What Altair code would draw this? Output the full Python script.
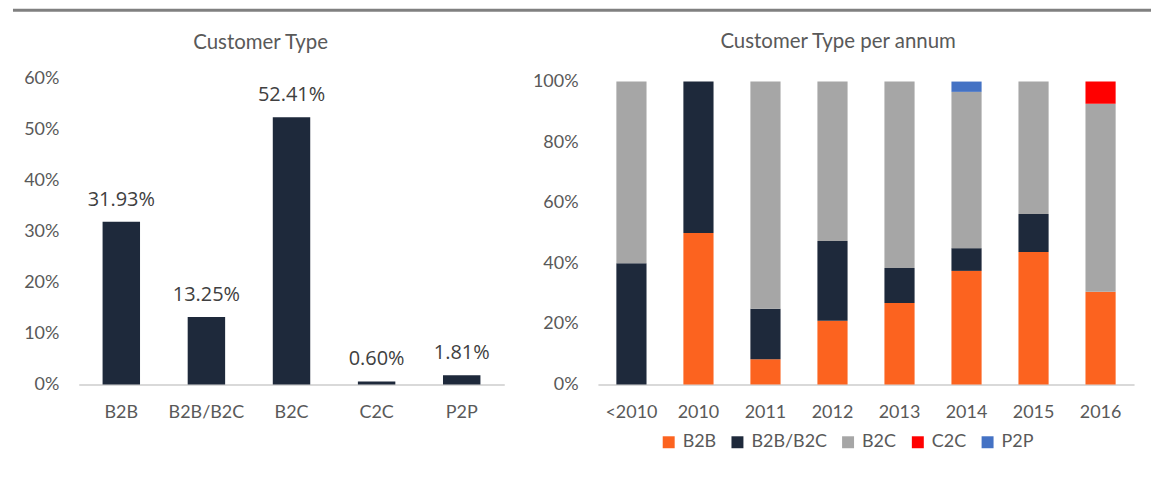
import altair as alt
import pandas as pd

# Left chart data
types = ["B2B", "B2B/B2C", "B2C", "C2C", "P2P"]
shares = [0.3193, 0.1325, 0.5241, 0.0060, 0.0181]

# Right chart data (share per year, per customer type)
years = ["<2010", "2010", "2011", "2012", "2013", "2014", "2015", "2016"]
b2b = [0.0, 0.50, 0.0833, 0.2105, 0.2692, 0.3750, 0.4375, 0.3060]
b2b_b2c = [0.40, 0.50, 0.1667, 0.2632, 0.1154, 0.0750, 0.1250, 0.0]
b2c = [0.60, 0.0, 0.75, 0.5263, 0.6154, 0.5160, 0.4375, 0.6210]
c2c = [0.0, 0.0, 0.0, 0.0, 0.0, 0.0, 0.0, 0.0730]
p2p = [0.0, 0.0, 0.0, 0.0, 0.0, 0.0340, 0.0, 0.0]

colors = ["#FC631F", "#1E293B", "#A6A6A6", "#FF0000", "#4472C4"]
navy = "#1E293B"
FONT = "Lato"
LABEL_COLOR = "#595959"

left_df = pd.DataFrame({"type": types, "share": shares})

rows = []
series = {"B2B": b2b, "B2B/B2C": b2b_b2c, "B2C": b2c, "C2C": c2c, "P2P": p2p}
for i, y in enumerate(years):
    for k, (name, vals) in enumerate(series.items()):
        rows.append({"year": y, "type": name, "value": vals[i], "ord": k})
right_df = pd.DataFrame(rows)

# top gray rule
top_rule = alt.Chart(alt.Data(values=[{"a": 1}])).mark_rule(
    color="#808080", strokeWidth=3
).encode(
    x=alt.value(-66), x2=alt.value(1076), y=alt.value(1.5)
).properties(width=1000, height=2)

x_axis = alt.Axis(title=None, labelAngle=0, ticks=False, tickSize=0, domainColor="#D9D9D9",
                  domainWidth=2, labelFont=FONT, labelFontSize=18, labelColor=LABEL_COLOR,
                  labelPadding=19)

base_left = alt.Chart(left_df).encode(
    x=alt.X("type:N", sort=types, axis=x_axis,
            scale=alt.Scale(paddingInner=0.56, paddingOuter=0.28)),
    y=alt.Y("share:Q", scale=alt.Scale(domain=[0, 0.6], nice=False),
            axis=alt.Axis(title=None, values=[0, 0.1, 0.2, 0.3, 0.4, 0.5, 0.6], format=".0%",
                          grid=False, domain=False, ticks=False, tickSize=0,
                          labelFont=FONT, labelFontSize=18, labelColor=LABEL_COLOR,
                          labelPadding=20)),
)
left_bars = base_left.mark_bar(color=navy)
left_text = base_left.mark_text(
    baseline="alphabetic", dy=-16, font="Open Sans", fontSize=20, color="#404040"
).encode(text=alt.Text("share:Q", format=".2%"))

left = alt.layer(left_bars, left_text).properties(
    width=427, height=307,
    title=alt.TitleParams("Customer Type", font=FONT, fontSize=20.5, fontWeight="normal",
                          color=LABEL_COLOR, anchor="middle", baseline="alphabetic",
                          offset=0, dx=-31),
)

right = alt.Chart(right_df).mark_bar().encode(
    x=alt.X("year:N", sort=years, axis=x_axis,
            scale=alt.Scale(paddingInner=0.55, paddingOuter=0.275)),
    y=alt.Y("value:Q", stack="zero", scale=alt.Scale(domain=[0, 1.01], nice=False),
            axis=alt.Axis(title=None, values=[0, 0.2, 0.4, 0.6, 0.8, 1.0], format=".0%",
                          grid=False, domain=False, ticks=False, tickSize=0,
                          labelFont=FONT, labelFontSize=18, labelColor=LABEL_COLOR,
                          labelPadding=20)),
    color=alt.Color("type:N", scale=alt.Scale(domain=types, range=colors),
                    legend=alt.Legend(title=None, orient="none", direction="horizontal",
                                      legendX=583, legendY=426, symbolType="square",
                                      symbolSize=144, symbolStrokeWidth=0, labelFont=FONT,
                                      labelFontSize=18, labelColor=LABEL_COLOR, labelOffset=5,
                                      columnPadding=12, padding=0)),
    order=alt.Order("ord:Q", sort="ascending"),
).properties(
    width=538, height=307,
    title=alt.TitleParams("Customer Type per annum", font=FONT, fontSize=20.5, fontWeight="normal",
                          color=LABEL_COLOR, anchor="middle", baseline="alphabetic",
                          offset=4, dx=-28),
)

row = alt.hconcat(left, right, spacing=94, bounds="flush")
chart = alt.vconcat(top_rule, row, spacing=68, bounds="flush").properties(
    padding={"left": 3, "top": 0, "right": 0, "bottom": 0}
).configure_view(stroke=None)

chart.save("out.html", embed_options={"renderer": "svg", "actions": False})
